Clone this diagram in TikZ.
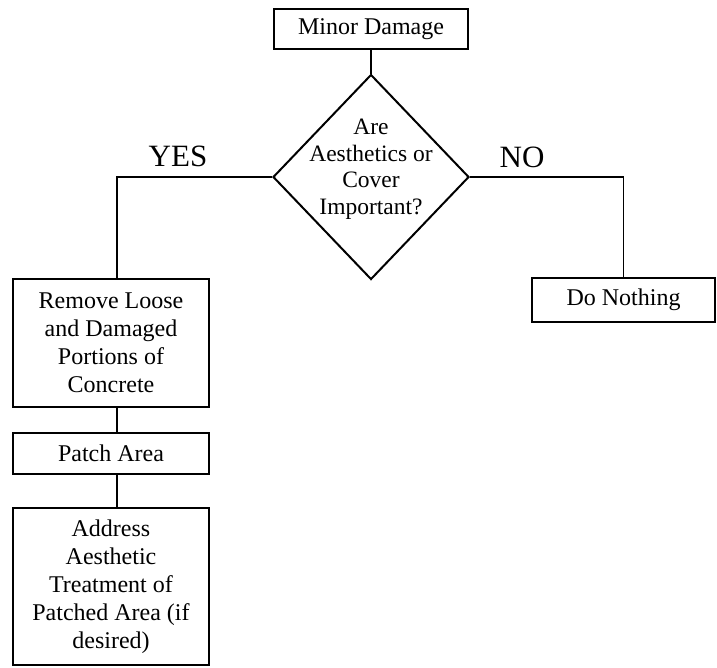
\documentclass[tikz,border=0pt]{standalone}
\usepackage{fontspec}
\setmainfont{Liberation Serif}
\usetikzlibrary{shapes.geometric}
\tikzset{
  box/.style={draw, line width=2.2pt, inner sep=0pt, align=center, font=\fontsize{24}{28}\selectfont},
  dec/.style={draw, diamond, line width=2pt, inner sep=0pt, minimum width=196pt, minimum height=205pt},
  txt/.style={align=center, inner sep=0pt, font=\fontsize{23.5}{26.5}\selectfont},
  big/.style={inner sep=0pt, font=\fontsize{31}{32}\selectfont},
  conn/.style={line width=1.6pt}
}
\begin{document}
\begin{tikzpicture}[x=1pt,y=-1pt]
\useasboundingbox (0,0) rectangle (717,667);
\node[box, minimum width=194pt, minimum height=40pt] (minor) at (371,29) {Minor Damage};
\node[dec] (q) at (371,177) {};
\node[txt] (qt) at (371,169) {Are\\Aesthetics or\\Cover\\Important?};
\node[box, minimum width=196pt, minimum height=128pt] (remove) at (111,343) {Remove Loose\\and Damaged\\Portions of\\Concrete};
\node[box, minimum width=196pt, minimum height=41pt] (patch) at (111,453.5) {Patch Area};
\node[box, minimum width=196pt, minimum height=157pt] (address) at (111,586.5) {Address\\Aesthetic\\Treatment of\\Patched Area (if\\desired)};
\node[box, minimum width=183pt, minimum height=44pt] (nothing) at (623.5,300) {Do Nothing};
\node[big] (yes) at (178,156) {YES};
\node[big] (no) at (522,157) {NO};
\coordinate (yc) at ([xshift=6pt]remove.north);
\draw[conn] (minor.south) -- (q.north);
\draw[conn] (q.west) -| (yc);
\draw[conn] (q.east) -| (nothing.north);
\draw[conn] ([xshift=6pt]remove.south) -- ([xshift=6pt]patch.north);
\draw[conn] ([xshift=6pt]patch.south) -- ([xshift=6pt]address.north);
\end{tikzpicture}
\end{document}
